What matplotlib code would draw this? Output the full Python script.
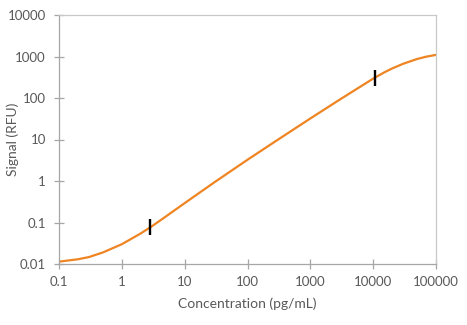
import matplotlib
matplotlib.use("Agg")
import matplotlib.pyplot as plt
import numpy as np

plt.rcParams['font.family'] = ['Lato', 'DejaVu Sans']

# standard curve read-out (concentration vs signal)
conc = [0.1, 0.2, 0.3, 0.5, 1, 2, 3, 5, 10, 30, 100, 300, 1000, 3000,
        10000, 15000, 20000, 30000, 50000, 70000, 100000]
signal = [0.0114, 0.0130, 0.0147, 0.019, 0.030, 0.0545, 0.081, 0.139, 0.293,
          0.94, 3.25, 9.75, 32.1, 93.4, 293, 414, 514, 667, 871, 990, 1094]

# range markers on the curve
mark_conc = [2.8, 10700]
mark_signal = [0.077, 310]

x_ticks = [0.1, 1, 10, 100, 1000, 10000, 100000]
x_labels = ['0.1', '1', '10', '100', '1000', '10000', '100000']
y_ticks = [0.01, 0.1, 1, 10, 100, 1000, 10000]
y_labels = ['0.01', '0.1', '1', '10', '100', '1000', '10000']

fig = plt.figure(figsize=(4.67, 3.25), dpi=100)
ax = fig.add_axes([59/467, 1 - 264/325, (436 - 59)/467, (264 - 15)/325])

ax.plot(conc, signal, color='#EE8422', lw=1.6, solid_capstyle='round',
        solid_joinstyle='round')
ax.plot(mark_conc, mark_signal, ls='none', marker='|', ms=11.5,
        mew=1.7, color='black')

ax.set_xscale('log')
ax.set_yscale('log')
ax.set_xlim(0.1, 100000)
ax.set_ylim(0.01, 10000)
ax.set_xticks(x_ticks)
ax.set_xticklabels(x_labels)
ax.set_yticks(y_ticks)
ax.set_yticklabels(y_labels)
ax.minorticks_off()

for side in ['left', 'bottom']:
    ax.spines[side].set_color('#A6A6A6')
for side in ['top', 'right']:
    ax.spines[side].set_color('#C8C8C8')
for s in ax.spines.values():
    s.set_linewidth(0.9)

ax.tick_params(direction='inout', length=7, width=0.9, color='#A6A6A6',
               labelcolor='#595959', labelsize=9.5)
ax.tick_params(axis='x', pad=5)
ax.tick_params(axis='y', pad=6)

ax.set_xlabel('Concentration (pg/mL)', fontsize=10, color='#595959')
ax.set_ylabel('Signal (RFU)', fontsize=10, color='#595959')
ax.xaxis.label.set_va('center')
ax.yaxis.label.set_va('center')
ax.xaxis.set_label_coords(0.5, (264 - 304) / 249)
ax.yaxis.set_label_coords((13 - 59) / 377, 0.5)

fig.savefig('out.png', dpi=100)
